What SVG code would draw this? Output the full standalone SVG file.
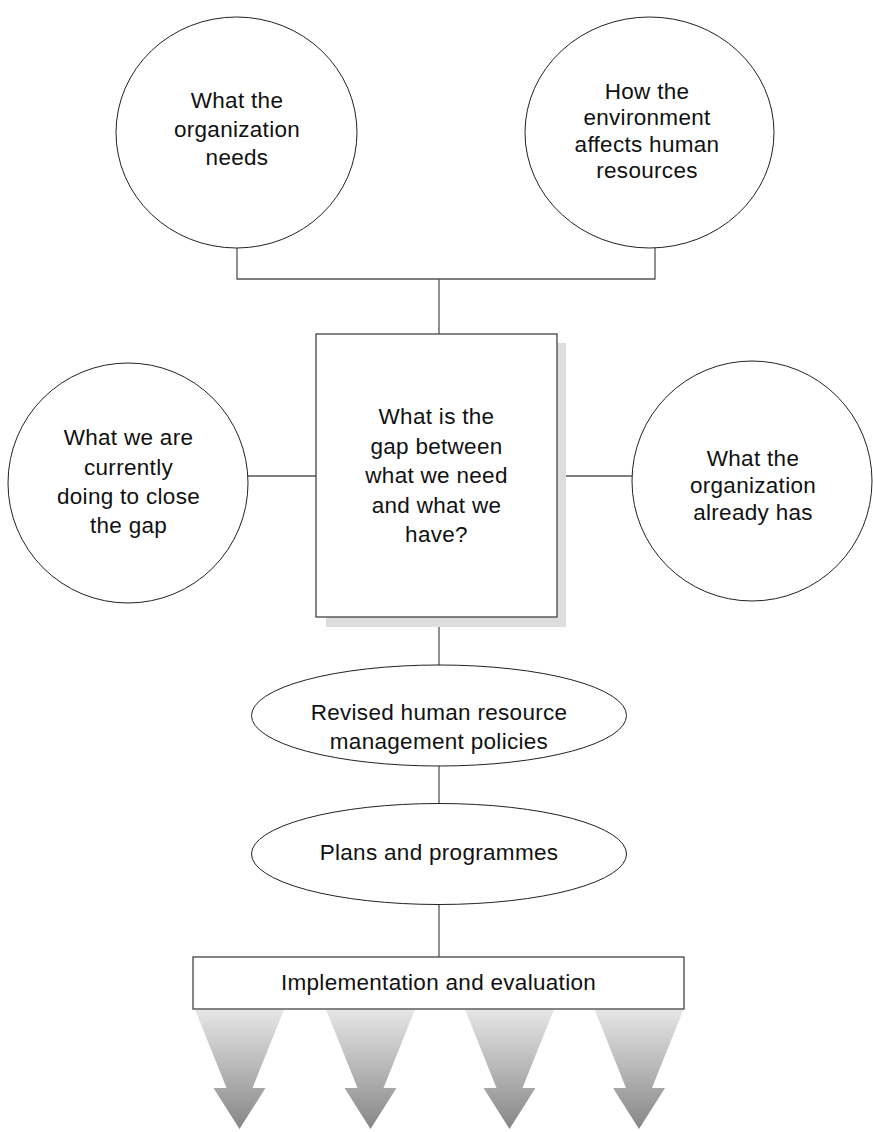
<svg xmlns="http://www.w3.org/2000/svg" width="873" height="1132" viewBox="0 0 873 1132">
  <style>
    .shape { fill: #ffffff; stroke: #222222; stroke-width: 1; }
    .box { fill: #ffffff; stroke: #444444; stroke-width: 1.3; }
    .link { fill: none; stroke: #555555; stroke-width: 1.3; }
    .label { font-family: "Liberation Sans", Arial, Helvetica, sans-serif; font-size: 22.5px; fill: #111111; text-anchor: middle; letter-spacing: 0.3px; }
  </style>
  <defs>
    <linearGradient id="arrowFill" x1="0" y1="0" x2="0" y2="1">
      <stop offset="0" stop-color="#e6e6e6"/>
      <stop offset="1" stop-color="#868686"/>
    </linearGradient>
    <!-- tapered down-arrow, centred on x = 0 -->
    <path id="downArrow" d="M -44.5 1009.5 L 44.5 1009.5 L 13 1088 L 26 1088 L 0 1129 L -26 1088 L -13 1088 Z" fill="url(#arrowFill)"/>
  </defs>

  <rect width="873" height="1132" fill="#ffffff"/>

  <g id="connectors">
    <polyline class="link" points="237,248 237,279 655,279 655,248"/>
    <line class="link" x1="439" y1="279" x2="439" y2="334"/>
    <line class="link" x1="248" y1="476" x2="316" y2="476"/>
    <line class="link" x1="557" y1="476" x2="632" y2="476"/>
    <line class="link" x1="439" y1="617" x2="439" y2="665"/>
    <line class="link" x1="439" y1="766" x2="439" y2="803"/>
    <line class="link" x1="439" y1="904" x2="439" y2="957"/>
  </g>

  <g id="org-needs">
    <ellipse class="shape" cx="236.5" cy="132.5" rx="120.5" ry="115.5"/>
    <text class="label" x="237" y="108">What the</text>
    <text class="label" x="237" y="136.5">organization</text>
    <text class="label" x="237" y="165">needs</text>
  </g>

  <g id="environment">
    <ellipse class="shape" cx="649.5" cy="132.5" rx="124.5" ry="115.5"/>
    <text class="label" x="647" y="98.5">How the</text>
    <text class="label" x="647" y="125">environment</text>
    <text class="label" x="647" y="151.5">affects human</text>
    <text class="label" x="647" y="178">resources</text>
  </g>

  <g id="current-actions">
    <circle class="shape" cx="128" cy="483" r="120"/>
    <text class="label" x="128.5" y="445">What we are</text>
    <text class="label" x="128.5" y="474.5">currently</text>
    <text class="label" x="128.5" y="504">doing to close</text>
    <text class="label" x="128.5" y="533">the gap</text>
  </g>

  <g id="org-has">
    <circle class="shape" cx="752" cy="481" r="120"/>
    <text class="label" x="753" y="466">What the</text>
    <text class="label" x="753" y="493">organization</text>
    <text class="label" x="753" y="520">already has</text>
  </g>

  <g id="gap">
    <rect x="326" y="343" width="240" height="284" fill="#dddddd"/>
    <rect class="box" x="316" y="334" width="241" height="283"/>
    <text class="label" x="436.5" y="424">What is the</text>
    <text class="label" x="436.5" y="453.5">gap between</text>
    <text class="label" x="436.5" y="483">what we need</text>
    <text class="label" x="436.5" y="512.5">and what we</text>
    <text class="label" x="436.5" y="542">have?</text>
  </g>

  <g id="revised-policies">
    <ellipse class="shape" cx="439" cy="715.5" rx="187.5" ry="50.5"/>
    <text class="label" x="439" y="719.5">Revised human resource</text>
    <text class="label" x="439" y="748.5">management policies</text>
  </g>

  <g id="plans">
    <ellipse class="shape" cx="439" cy="854" rx="187.5" ry="50.5"/>
    <text class="label" x="439" y="860">Plans and programmes</text>
  </g>

  <g id="implementation">
    <use href="#downArrow" transform="translate(239.5 0)"/>
    <use href="#downArrow" transform="translate(370.5 0)"/>
    <use href="#downArrow" transform="translate(509.5 0)"/>
    <use href="#downArrow" transform="translate(639 0)"/>
    <rect class="box" x="193" y="957" width="491" height="52"/>
    <text class="label" x="438.5" y="989.5">Implementation and evaluation</text>
  </g>
</svg>
